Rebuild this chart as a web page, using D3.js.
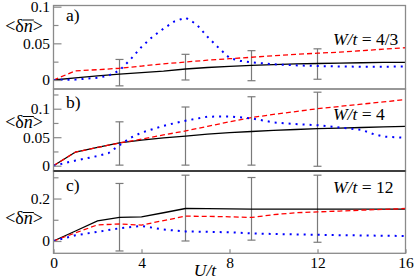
<!DOCTYPE html>
<html>
<head>
<meta charset="utf-8">
<script src="https://cdn.jsdelivr.net/npm/d3@7"></script>
<style>
  body { margin: 0; background: #fff; }
</style>
</head>
<body>
<script>
// U/t values shared by the solid and dashed curves
let U = [0, 1, 2, 3, 4, 5, 6, 7, 8, 9, 10, 11, 12, 13, 14, 15, 16];
let errU = [3, 6, 9, 12];

// panel a) W/t = 4/3
let aBlack = [0, 0.003, 0.0055, 0.008, 0.010, 0.012, 0.015, 0.017, 0.0185, 0.020, 0.021, 0.022, 0.0225, 0.023, 0.0235, 0.024, 0.024];
let aRed = [0, 0.0125, 0.014, 0.016, 0.019, 0.022, 0.0245, 0.027, 0.029, 0.031, 0.033, 0.035, 0.0365, 0.038, 0.040, 0.042, 0.044];
let aBlueU = [0, 1, 2, 2.5, 3, 3.5, 4, 4.5, 5, 5.5, 6, 6.5, 7, 7.5, 8, 8.5, 9, 10, 11, 12, 13, 14, 15, 16];
let aBlue = [0, 0.0005, 0.003, 0.006, 0.013, 0.028, 0.045, 0.059, 0.070, 0.080, 0.085, 0.076, 0.059, 0.044, 0.030, 0.026, 0.024, 0.0215, 0.020, 0.019, 0.0185, 0.018, 0.018, 0.0185];
let aErrLow = [-0.008, 0.0, -0.001, 0.001];
let aErrHigh = [0.028, 0.035, 0.040, 0.0425];

// panel b) W/t = 4
let bBlack = [0, 0.024, 0.032, 0.040, 0.045, 0.049, 0.052, 0.0555, 0.058, 0.060, 0.062, 0.0635, 0.065, 0.066, 0.067, 0.068, 0.069];
let bRed = [0, 0.024, 0.032, 0.040, 0.0465, 0.054, 0.061, 0.069, 0.077, 0.0845, 0.090, 0.095, 0.100, 0.104, 0.108, 0.112, 0.116];
let bBlueU = [0, 1, 2, 2.5, 3, 3.5, 4, 5, 6, 7, 8, 9, 10, 11, 12, 13, 14, 14.5, 15, 16];
let bBlue = [0, 0.009, 0.017, 0.022, 0.036, 0.049, 0.058, 0.070, 0.079, 0.086, 0.0865, 0.083, 0.076, 0.073, 0.071, 0.067, 0.063, 0.056, 0.051, 0.049];
let bErrLow = [0.001, 0.001, 0.001, -0.001];
let bErrHigh = [0.077, 0.103, 0.121, 0.129];

// panel c) W/t = 12
let cBlack = [0, 0.047, 0.095, 0.111, 0.114, 0.133, 0.153, 0.152, 0.151, 0.150, 0.150, 0.150, 0.150, 0.150, 0.150, 0.150, 0.150];
let cRed = [0, 0.038, 0.076, 0.080, 0.075, 0.096, 0.117, 0.116, 0.114, 0.111, 0.124, 0.133, 0.137, 0.141, 0.145, 0.149, 0.153];
let cBlueU = [0, 1, 2, 3, 4, 5, 6, 8, 9, 10, 12, 14, 16];
let cBlue = [0, 0.027, 0.043, 0.060, 0.071, 0.054, 0.045, 0.041, 0.036, 0.033, 0.029, 0.026, 0.0235];
let cErrLow = [-0.047, 0.0, 0.004, -0.006];
let cErrHigh = [0.271, 0.31, 0.299, 0.31];

// tick labels
let xTicks = [0, 4, 8, 12, 16];
let aMajor = [0, 0.05, 0.1], aMinor = [0.025, 0.075];
let bMajor = [0, 0.05, 0.1], bMinor = [0.025, 0.075, 0.125];
let cMajor = [0, 0.2], cMinor = [0.1, 0.3];
let panelLetters = ["a)", "b)", "c)"];
let wLabels = ["4/3", "4", "12"];

let serif = "Liberation Serif";

let svg = d3.select("body").append("svg")
	.attr("width", 415)
	.attr("height", 279);

let left = 53.5, right = 405.5;
let frameColor = "#8a8a8a";

let x = d3.scaleLinear().domain([0, 16]).range([left, right]);

//one entry per panel, built from the arrays above
let panels = [
	{ top: 5.5, bottom: 89, domain: [-0.0123, 0.1016], black: aBlack, red: aRed, blueU: aBlueU, blue: aBlue,
	  lo: aErrLow, hi: aErrHigh, major: aMajor, minor: aMinor,
	  labelY: 31.5, letterY: 20.5, wY: 45 },
	{ top: 89, bottom: 171, domain: [-0.0093, 0.1346], black: bBlack, red: bRed, blueU: bBlueU, blue: bBlue,
	  lo: bErrLow, hi: bErrHigh, major: bMajor, minor: bMinor,
	  labelY: 128, letterY: 108.3, wY: 120 },
	{ top: 171, bottom: 253.3, domain: [-0.058, 0.3297], black: cBlack, red: cRed, blueU: cBlueU, blue: cBlue,
	  lo: cErrLow, hi: cErrHigh, major: cMajor, minor: cMinor,
	  labelY: 224, letterY: 190.7, wY: 193 }
];

panels.forEach(function(p, i) {
	let y = d3.scaleLinear().domain(p.domain).range([p.bottom, p.top]);

	let g = svg.append("g");

	//error bars
	let eb = g.append("g")
		.attr("stroke", "#7a7a7a")
		.attr("stroke-width", 1.2)
		.attr("fill", "none");
	errU.forEach(function(u, j) {
		let cx = x(u);
		eb.append("line").attr("x1", cx).attr("x2", cx).attr("y1", y(p.lo[j])).attr("y2", y(p.hi[j]));
		eb.append("line").attr("x1", cx - 4).attr("x2", cx + 4).attr("y1", y(p.lo[j])).attr("y2", y(p.lo[j]));
		eb.append("line").attr("x1", cx - 4).attr("x2", cx + 4).attr("y1", y(p.hi[j])).attr("y2", y(p.hi[j]));
	});

	let line = d3.line()
		.x(d => x(d[0]))
		.y(d => y(d[1]));

	g.append("path") //solid black
		.datum(d3.zip(U, p.black))
		.attr("fill", "none")
		.attr("stroke", "black")
		.attr("stroke-width", 1.3)
		.attr("d", line);

	g.append("path") //dashed red
		.datum(d3.zip(U, p.red))
		.attr("fill", "none")
		.attr("stroke", "#ff0000")
		.attr("stroke-width", 1.3)
		.attr("stroke-dasharray", "5,3")
		.attr("d", line);

	g.append("path") //dotted blue
		.datum(d3.zip(p.blueU, p.blue))
		.attr("fill", "none")
		.attr("stroke", "#0000ff")
		.attr("stroke-width", 2)
		.attr("stroke-dasharray", "2,5")
		.attr("d", line);

	//frame
	g.append("rect")
		.attr("x", left)
		.attr("y", p.top)
		.attr("width", right - left)
		.attr("height", p.bottom - p.top)
		.attr("fill", "none")
		.attr("stroke", frameColor)
		.attr("stroke-width", 1.3);

	//y axis, ticks pointing inwards
	let yAxis = d3.axisLeft(y)
		.tickValues(p.major)
		.tickSizeInner(-8)
		.tickSizeOuter(0)
		.tickPadding(3.5)
		.tickFormat(d => d === 0 ? "0" : String(d));
	let yG = g.append("g")
		.attr("transform", `translate(${left},0)`)
		.call(yAxis)
		.attr("font-family", null)
		.attr("font-size", null);
	yG.select(".domain").remove();
	yG.selectAll("line").attr("stroke", frameColor).attr("stroke-width", 1.2);
	yG.selectAll("text")
		.style("font-family", serif)
		.style("font-size", "15.5px")
		.attr("fill", "black");

	let yMinor = g.append("g")
		.attr("transform", `translate(${left},0)`)
		.call(d3.axisLeft(y).tickValues(p.minor).tickSizeInner(-5).tickSizeOuter(0).tickFormat(""));
	yMinor.select(".domain").remove();
	yMinor.selectAll("line").attr("stroke", frameColor).attr("stroke-width", 1.2);

	//y label <δn> with a bar over n
	let lab = svg.append("text")
		.attr("x", 43)
		.attr("y", p.labelY)
		.attr("text-anchor", "end")
		.style("font-family", serif)
		.style("font-size", "18px");
	lab.append("tspan").text("<δ");
	lab.append("tspan").style("font-style", "italic").text("n");
	lab.append("tspan").text(">");
	let node = lab.node();
	let s = node.getStartPositionOfChar(2), e = node.getEndPositionOfChar(2);
	svg.append("line")
		.attr("x1", s.x - 1).attr("x2", e.x + 1)
		.attr("y1", p.labelY - 11.5).attr("y2", p.labelY - 11.5)
		.attr("stroke", "black")
		.attr("stroke-width", 1);

	//panel letter
	svg.append("text")
		.attr("x", 66)
		.attr("y", p.letterY)
		.style("font-family", serif)
		.style("font-size", "17.5px")
		.text(panelLetters[i]);

	//W/t annotation
	let w = svg.append("text")
		.attr("x", 333)
		.attr("y", p.wY)
		.style("font-family", serif)
		.style("font-size", "17.5px");
	w.append("tspan").style("font-style", "italic").text("W/t");
	w.append("tspan").text(" = " + wLabels[i]);
});

//darker line between panels b and c
svg.append("line")
	.attr("x1", left).attr("x2", right)
	.attr("y1", panels[2].top).attr("y2", panels[2].top)
	.attr("stroke", "#222")
	.attr("stroke-width", 1.3);

//x axis on the bottom panel
let xAxis = d3.axisBottom(x)
	.tickValues(xTicks)
	.tickSizeInner(-4)
	.tickSizeOuter(0)
	.tickPadding(3.5)
	.tickFormat(d3.format("d"));

let xG = svg.append("g")
	.attr("transform", `translate(0,${panels[2].bottom})`)
	.call(xAxis)
	.attr("font-family", null)
	.attr("font-size", null);
xG.select(".domain").remove();
xG.selectAll("line").attr("stroke", frameColor).attr("stroke-width", 1.2);
xG.selectAll("text")
	.style("font-family", serif)
	.style("font-size", "15.5px")
	.attr("fill", "black");

svg.append("text")
	.attr("x", 205)
	.attr("y", 276)
	.attr("text-anchor", "middle")
	.style("font-family", serif)
	.style("font-size", "17.5px")
	.style("font-style", "italic")
	.text("U/t");
</script>
</body>
</html>
